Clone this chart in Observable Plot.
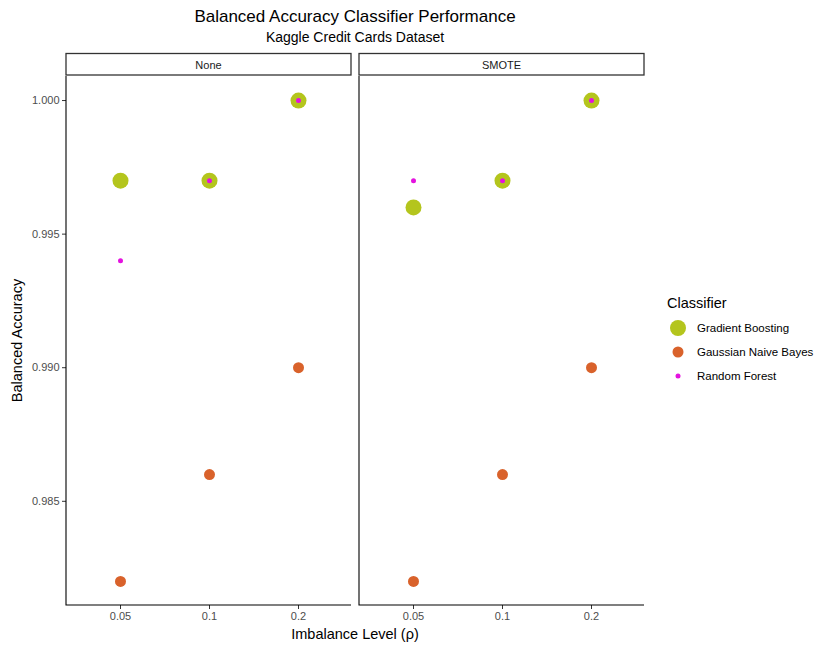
<!DOCTYPE html>
<html>
<head>
<meta charset="utf-8">
<script src="https://cdn.jsdelivr.net/npm/d3@7"></script>
<script src="https://cdn.jsdelivr.net/npm/@observablehq/plot@0.6"></script>
<style>
  body { margin: 0; background: #fff; font-family: "Liberation Sans", Arial, sans-serif; }
  #chart { position: relative; width: 820px; height: 645px; }
</style>
</head>
<body>
<div id="chart"></div>
<script>
// Balanced accuracy per classifier, by imbalance level and resampling method
const methods = ["None", "SMOTE"];
const levels = ["0.05", "0.1", "0.2"];
const classifiers = ["Gradient Boosting", "Gaussian Naive Bayes", "Random Forest"];
const colors = ["#b4c51d", "#d9622b", "#e412df"];
const radii = [8, 5.5, 2.5];

const gbNone = [0.997, 0.997, 1.000];
const gbSmote = [0.996, 0.997, 1.000];
const gnbNone = [0.982, 0.986, 0.990];
const gnbSmote = [0.982, 0.986, 0.990];
const rfNone = [0.994, 0.997, 1.000];
const rfSmote = [0.997, 0.997, 1.000];

const yTicks = [0.985, 0.990, 0.995, 1.000];

const series = [
  ["None", "Gradient Boosting", gbNone],
  ["SMOTE", "Gradient Boosting", gbSmote],
  ["None", "Gaussian Naive Bayes", gnbNone],
  ["SMOTE", "Gaussian Naive Bayes", gnbSmote],
  ["None", "Random Forest", rfNone],
  ["SMOTE", "Random Forest", rfSmote]
];
const rows = series.flatMap(([method, classifier, values]) =>
  values.map((value, i) => ({method, classifier, level: levels[i], value})));

const width = 820, height = 645;
const marginLeft = 66, marginRight = 176, marginTop = 76, marginBottom = 40;

// y domain: data extent with 5% expansion on both sides
const [vMin, vMax] = d3.extent(rows, d => d.value);
const pad = (vMax - vMin) * 0.05;

const dotsFor = (name, i) => Plot.dot(rows.filter(d => d.classifier === name), {
  fx: "method", x: "level", y: "value", r: radii[i], fill: colors[i], stroke: null
});

const chart = Plot.plot({
  width, height, marginLeft, marginRight, marginTop, marginBottom,
  style: {fontFamily: "Liberation Sans, Arial, sans-serif", fontSize: "11px", color: "#4d4d4d", background: "#fff"},
  fx: {domain: methods, paddingInner: 8 / 293, paddingOuter: 0, axis: null, label: null},
  x: {type: "point", domain: levels, padding: 0.6, label: null},
  y: {domain: [vMin - pad, vMax + pad], label: null},
  marks: [
    Plot.axisX({tickSize: 4, tickPadding: 3, stroke: "#333", fill: "#4d4d4d", label: null}),
    Plot.axisY({ticks: yTicks, tickFormat: ".3f", tickSize: 4, tickPadding: 3, stroke: "#333", fill: "#4d4d4d", label: null}),
    ...classifiers.map(dotsFor)
  ]
});

const svg = d3.select(chart);
const fx = chart.scale("fx");
const frameTop = marginTop, frameBottom = height - marginBottom;

// panel axis lines (left and bottom) and strip boxes for each facet
for (const m of methods) {
  const x0 = fx.apply(m), x1 = x0 + fx.bandwidth;
  svg.append("path")
    .attr("d", `M${x0},${frameTop}V${frameBottom}H${x1}`)
    .attr("fill", "none").attr("stroke", "#000").attr("stroke-width", 1.1);
  svg.append("rect")
    .attr("x", x0).attr("y", frameTop - 22.5).attr("width", fx.bandwidth).attr("height", 21.5)
    .attr("fill", "#fff").attr("stroke", "#333").attr("stroke-width", 1.3);
  svg.append("text")
    .attr("x", (x0 + x1) / 2).attr("y", frameTop - 11.5)
    .attr("text-anchor", "middle").attr("dominant-baseline", "central")
    .attr("fill", "#1a1a1a").attr("font-size", 11).text(m);
}

const cx = (marginLeft + width - marginRight) / 2;
const text = (x, y, s, size, fill, extra = {}) => {
  const t = svg.append("text").attr("x", x).attr("y", y).attr("font-size", size)
    .attr("fill", fill).attr("text-anchor", "start").text(s);
  for (const [k, v] of Object.entries(extra)) t.attr(k, v);
  return t;
};
text(cx, 22, "Balanced Accuracy Classifier Performance", 17, "#000", {"text-anchor": "middle"});
text(cx, 42, "Kaggle Credit Cards Dataset", 14, "#000", {"text-anchor": "middle"});
text(cx, 639, "Imbalance Level (ρ)", 14.5, "#000", {"text-anchor": "middle"});
text(0, 0, "Balanced Accuracy", 14.5, "#000",
  {"text-anchor": "middle", transform: `translate(22,${(frameTop + frameBottom) / 2}) rotate(-90)`});

// legend
text(667, 308, "Classifier", 14.5, "#000");
classifiers.forEach((c, i) => {
  const y = 328 + i * 24;
  svg.append("circle").attr("cx", 678).attr("cy", y).attr("r", radii[i]).attr("fill", colors[i]);
  text(697, y + 4, c, 11.5, "#000");
});

document.getElementById("chart").appendChild(chart);
</script>
</body>
</html>
